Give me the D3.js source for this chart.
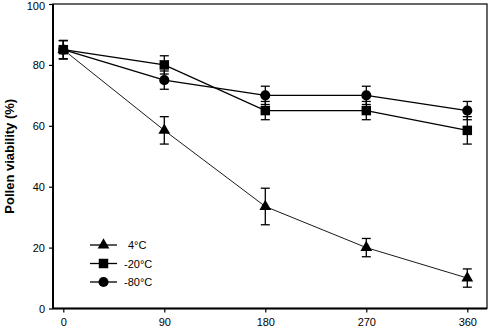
<!DOCTYPE html>
<html><head><meta charset="utf-8">
<script src="https://cdn.jsdelivr.net/npm/d3@7"></script>
<style>body{margin:0;background:#fff}svg{display:block}text{font-family:"Liberation Sans",Arial,sans-serif}</style>
</head><body>
<svg id="c" width="488" height="331"></svg>
<script>
const days = [0, 90, 180, 270, 360];
const xTicks = [0, 90, 180, 270, 360];
const yTicks = [0, 20, 40, 60, 80, 100];
const seriesNames = ["4°C", "-20°C", "-80°C"];
const v4 = [85, 58.5, 33.5, 20, 10];
const e4 = [3, 4.5, 6, 3, 3];
const v20 = [85, 80, 65, 65, 58.5];
const e20 = [3, 3, 3, 3, 4.5];
const v80 = [85, 75, 70, 70, 65];
const e80 = [3, 3, 3, 3, 3];

const series = [
  {name: seriesNames[0], vals: v4, errs: e4, sym: d3.symbolTriangle, lw: 0.9},
  {name: seriesNames[1], vals: v20, errs: e20, sym: d3.symbolSquare, lw: 1.4},
  {name: seriesNames[2], vals: v80, errs: e80, sym: d3.symbolCircle, lw: 1.4}
];

const svg = d3.select("#c");
const L = 53, R = 487, T = 4, B = 308.5;
const x = d3.scaleLinear().domain([0, 360]).range([63.3, 467.3]);
const y = d3.scaleLinear().domain([0, 100]).range([B, T]);

// frame
svg.append("rect").attr("x", L).attr("y", T).attr("width", R - L).attr("height", B - T)
  .attr("fill", "none").attr("stroke", "#000").attr("stroke-width", 1.2);
svg.append("line").attr("x1", L).attr("x2", L).attr("y1", T).attr("y2", B).attr("stroke", "#000").attr("stroke-width", 2);
svg.append("line").attr("x1", L).attr("x2", R).attr("y1", B).attr("y2", B).attr("stroke", "#000").attr("stroke-width", 2);

// axes
const ya = svg.append("g").attr("transform", `translate(${L},0)`)
  .call(d3.axisLeft(y).tickValues(yTicks).tickSize(4).tickPadding(4).tickFormat(d3.format("d")));
ya.select(".domain").remove();
ya.selectAll("line").attr("stroke-width", 1.2);
ya.selectAll("text").attr("font-size", 11).attr("fill", "#000");
ya.selectAll(".tick").filter(d => d === 100).select("text").attr("dy", "0.5em");

const xa = svg.append("g").attr("transform", `translate(0,${B})`)
  .call(d3.axisBottom(x).tickValues(xTicks).tickSize(4).tickPadding(6).tickFormat(d3.format("d")));
xa.select(".domain").remove();
xa.selectAll("line").attr("stroke-width", 1.2);
xa.selectAll("text").attr("font-size", 11).attr("fill", "#000");

svg.append("text").attr("transform", `translate(14,${(T + B) / 2}) rotate(-90)`)
  .attr("text-anchor", "middle").attr("font-size", 13).attr("font-weight", "bold")
  .text("Pollen viability (%)");

const line = d3.line().x((d, i) => x(days[i])).y(d => y(d));

series.forEach(s => {
  svg.append("path").datum(s.vals).attr("d", line).attr("fill", "none")
    .attr("stroke", "#000").attr("stroke-width", s.lw);
});

series.forEach(s => {
  const g = svg.append("g");
  s.vals.forEach((v, i) => {
    const cx = x(days[i]);
    const top = y(v + s.errs[i]), bot = y(v - s.errs[i]);
    g.append("line").attr("x1", cx).attr("x2", cx).attr("y1", top).attr("y2", bot).attr("stroke", "#000").attr("stroke-width", 1.3);
    g.append("line").attr("x1", cx - 4.5).attr("x2", cx + 4.5).attr("y1", top).attr("y2", top).attr("stroke", "#000").attr("stroke-width", 1.3);
    g.append("line").attr("x1", cx - 4.5).attr("x2", cx + 4.5).attr("y1", bot).attr("y2", bot).attr("stroke", "#000").attr("stroke-width", 1.3);
  });
  g.selectAll("path.m").data(s.vals).enter().append("path")
    .attr("transform", (d, i) => `translate(${x(days[i])},${y(d)})`)
    .attr("d", d3.symbol().type(s.sym).size(s.sym === d3.symbolTriangle ? 60 : (s.sym === d3.symbolSquare ? 90 : 80)))
    .attr("fill", "#000");
});

// legend
const leg = svg.append("g");
series.forEach((s, i) => {
  const ly = 245 + i * 18.5;
  leg.append("line").attr("x1", 90).attr("x2", 117).attr("y1", ly).attr("y2", ly).attr("stroke", "#000").attr("stroke-width", 1.3);
  leg.append("path").attr("transform", `translate(103.5,${ly})`)
    .attr("d", d3.symbol().type(s.sym).size(s.sym === d3.symbolTriangle ? 60 : (s.sym === d3.symbolSquare ? 90 : 80)))
    .attr("fill", "#000");
  leg.append("text").attr("x", i === 0 ? 128 : 124).attr("y", ly + 4).attr("font-size", 11).text(s.name);
});
</script>
</body></html>
